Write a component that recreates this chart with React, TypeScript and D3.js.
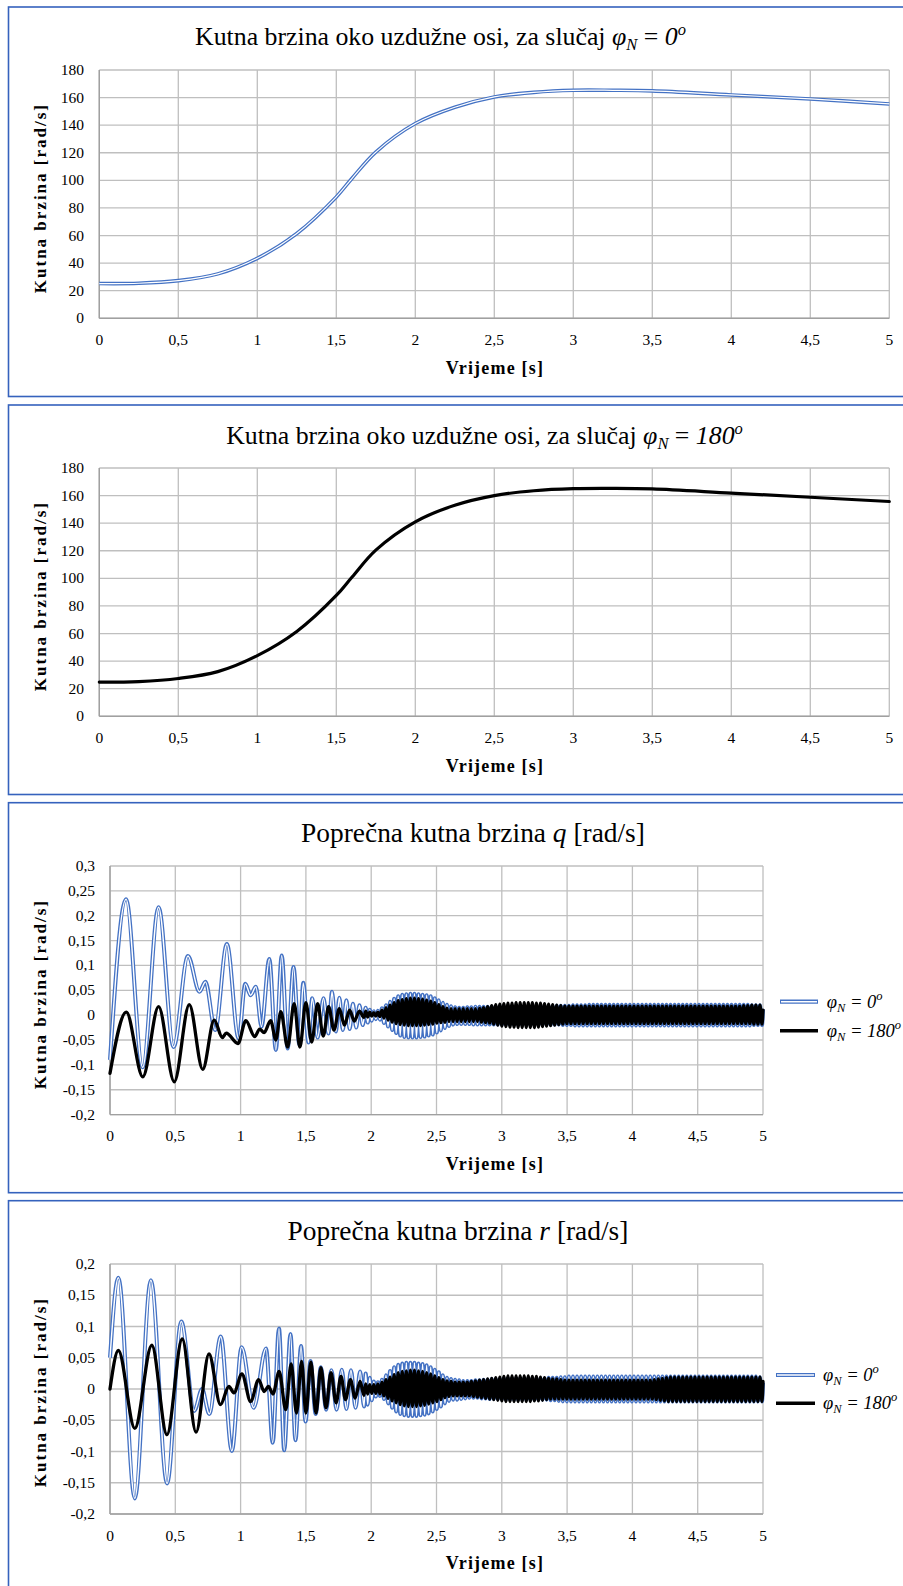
import React from 'react';
import * as d3 from 'd3';

// ---------------- axis ticks ----------------
const timeTicks = [0, 0.5, 1, 1.5, 2, 2.5, 3, 3.5, 4, 4.5, 5];
const timeTickLabels = ['0', '0,5', '1', '1,5', '2', '2,5', '3', '3,5', '4', '4,5', '5'];
const rollTicks = [0, 20, 40, 60, 80, 100, 120, 140, 160, 180];
const rollTickLabels = ['0', '20', '40', '60', '80', '100', '120', '140', '160', '180'];
const qTicks = [0.3, 0.25, 0.2, 0.15, 0.1, 0.05, 0, -0.05, -0.1, -0.15, -0.2];
const qTickLabels = ['0,3', '0,25', '0,2', '0,15', '0,1', '0,05', '0', '-0,05', '-0,1', '-0,15', '-0,2'];
const rTicks = [0.2, 0.15, 0.1, 0.05, 0, -0.05, -0.1, -0.15, -0.2];
const rTickLabels = ['0,2', '0,15', '0,1', '0,05', '0', '-0,05', '-0,1', '-0,15', '-0,2'];

// ---------------- roll rate (panels 1, 2) ----------------
const rollTime = [0, 0.25, 0.5, 0.75, 1, 1.25, 1.5, 1.6, 1.75, 2, 2.25, 2.5, 2.75, 3, 3.25, 3.5, 4, 4.5, 5];
const roll0 = [25.2, 25.4, 27.3, 32.2, 43.5, 61.5, 88, 101.5, 120.5, 141.2, 153, 160.5, 163.8, 165.3, 165.3, 164.9, 161.9, 159, 155.4];
const roll180 = [24.8, 25.2, 27.4, 32.4, 44, 61.5, 87.6, 101, 120.5, 141, 153, 160, 163.5, 165, 165.2, 164.8, 161.8, 158.8, 155.7];

// ---------------- q, slow part (extrema) ----------------
const qBlueSlowT = [0, 0.123, 0.25, 0.372, 0.487, 0.597, 0.685, 0.731, 0.805, 0.895, 0.985, 1.036, 1.077, 1.117, 1.16, 1.22, 1.27, 1.315, 1.36, 1.405, 1.45, 1.48, 1.52, 1.548, 1.59, 1.635, 1.672, 1.7, 1.73, 1.756, 1.783, 1.81, 1.835, 1.86, 1.885, 1.91, 1.935];
const qBlueSlowV = [-0.09, 0.233, -0.105, 0.217, -0.064, 0.119, 0.047, 0.067, -0.03, 0.143, -0.047, 0.063, 0.04, 0.057, -0.023, 0.113, -0.07, 0.12, -0.067, 0.097, -0.06, 0.065, -0.055, 0.034, -0.045, 0.034, -0.037, 0.047, -0.033, 0.035, -0.03, 0.03, -0.028, 0.023, -0.025, 0.02, -0.02];
const qBlackSlowT = [0, 0.125, 0.251, 0.372, 0.492, 0.607, 0.71, 0.798, 0.86, 0.89, 0.98, 1.04, 1.108, 1.146, 1.18, 1.23, 1.27, 1.308, 1.36, 1.41, 1.454, 1.5, 1.544, 1.59, 1.633, 1.674, 1.715, 1.756, 1.795, 1.835, 1.87, 1.91, 1.945];
const qBlackSlowV = [-0.117, 0.006, -0.124, 0.017, -0.134, 0.021, -0.109, -0.01, -0.045, -0.036, -0.057, -0.011, -0.043, -0.028, -0.035, -0.011, -0.05, 0.007, -0.064, 0.023, -0.064, 0.025, -0.054, 0.023, -0.042, 0.017, -0.03, 0.013, -0.02, 0.01, -0.012, 0.008, -0.005];

// ---------------- r, slow part (extrema) ----------------
const rBlueSlowT = [0, 0.064, 0.19, 0.313, 0.437, 0.546, 0.645, 0.705, 0.76, 0.848, 0.933, 1.008, 1.1, 1.195, 1.246, 1.294, 1.334, 1.382, 1.42, 1.463, 1.497, 1.535, 1.575, 1.615, 1.655, 1.695, 1.735, 1.775, 1.81, 1.845, 1.88, 1.915, 1.945];
const rBlueSlowV = [0.05, 0.178, -0.175, 0.174, -0.151, 0.108, -0.035, 0.0, -0.04, 0.084, -0.099, 0.067, -0.03, 0.065, -0.086, 0.097, -0.098, 0.088, -0.082, 0.069, -0.052, 0.045, -0.04, 0.035, -0.033, 0.03, -0.033, 0.031, -0.032, 0.03, -0.03, 0.028, -0.028];
const rBlackSlowT = [0, 0.064, 0.19, 0.32, 0.436, 0.553, 0.659, 0.758, 0.846, 0.91, 0.949, 1.01, 1.077, 1.138, 1.18, 1.213, 1.248, 1.295, 1.346, 1.387, 1.428, 1.467, 1.5, 1.538, 1.577, 1.615, 1.654, 1.692, 1.731, 1.769, 1.803, 1.841, 1.877, 1.915, 1.945];
const rBlackSlowV = [0, 0.0616, -0.063, 0.07, -0.073, 0.08, -0.069, 0.056, -0.025, 0.004, -0.006, 0.024, -0.02, 0.015, -0.004, 0.004, -0.008, 0.028, -0.033, 0.04, -0.0385, 0.044, -0.0385, 0.043, -0.0385, 0.034, -0.03, 0.026, -0.022, 0.02, -0.017, 0.015, -0.0145, 0.012, -0.01];

// ---------------- fast part: peak / trough per cycle (x 0.001 rad/s), 1.95 s .. 5 s ----------------
const FAST_START = 1.95;
const qBlueFastPk = [15, 11, 8, 9, 14, 20, 27, 33, 38, 41, 42, 43, 43, 42, 41, 40, 38, 34, 30, 25, 21, 18, 16, 15, 15, 16, 16, 17, 17, 17, 17, 17, 17, 17, 17, 17, 17, 18, 18, 18, 18, 18, 18, 18, 18, 18, 18, 19, 19, 19, 19, 20, 20, 20, 20, 21, 21, 21, 21, 21, 21, 21, 21, 21, 21, 21, 21, 21, 21, 21, 21, 21, 21, 21, 21, 21, 21, 21, 21, 21, 21, 21, 21, 21, 21, 21, 21, 21, 21, 21, 21, 21, 21, 21, 21, 20, 20, 20];
const qBlueFastTr = [-15, -11, -8, -9, -16, -23, -30, -36, -41, -44, -45, -45, -45, -44, -43, -41, -39, -35, -31, -26, -22, -19, -18, -18, -18, -18, -19, -19, -19, -19, -19, -19, -19, -19, -19, -19, -19, -19, -19, -19, -19, -19, -19, -19, -19, -19, -19, -19, -20, -20, -20, -21, -21, -21, -21, -21, -21, -21, -21, -21, -21, -21, -21, -21, -21, -21, -21, -21, -21, -21, -21, -21, -21, -21, -21, -21, -21, -21, -21, -21, -21, -21, -21, -21, -21, -21, -21, -21, -21, -21, -21, -21, -21, -21, -21, -20, -20, -20];
const qBlackFastPk = [8, 6, 5, 6, 10, 15, 20, 25, 29, 31, 33, 34, 34, 33, 32, 30, 28, 25, 21, 17, 14, 13, 13, 13, 13, 13, 13, 13, 14, 15, 17, 19, 21, 22, 23, 24, 24, 25, 25, 25, 25, 25, 24, 24, 23, 22, 21, 20, 19, 18, 18, 18, 18, 18, 18, 18, 18, 18, 18, 18, 18, 18, 18, 18, 18, 18, 18, 18, 18, 18, 18, 18, 18, 18, 18, 18, 18, 18, 18, 18, 18, 18, 18, 18, 18, 18, 18, 18, 18, 18, 18, 18, 18, 19, 19, 20, 20, 20];
const qBlackFastTr = [-4, -2, -2, -3, -6, -10, -14, -17, -19, -20, -21, -21, -21, -21, -20, -19, -18, -16, -15, -14, -13, -13, -13, -13, -13, -13, -13, -13, -14, -15, -16, -18, -20, -22, -23, -24, -24, -25, -25, -25, -25, -25, -24, -23, -22, -21, -20, -19, -18, -17, -17, -17, -17, -17, -17, -17, -17, -17, -17, -17, -17, -17, -17, -17, -17, -17, -17, -17, -17, -17, -17, -17, -17, -17, -17, -17, -17, -17, -17, -17, -17, -17, -17, -17, -17, -17, -17, -17, -17, -17, -17, -17, -17, -17, -17, -18, -18, -18];
const rBlueFastPk = [25, 18, 12, 11, 15, 22, 29, 35, 39, 41, 42, 42, 42, 41, 40, 38, 35, 31, 27, 22, 18, 16, 15, 14, 13, 13, 13, 14, 14, 15, 15, 16, 16, 16, 17, 17, 17, 17, 17, 17, 17, 17, 17, 17, 17, 18, 18, 18, 19, 19, 20, 20, 20, 20, 20, 20, 20, 20, 20, 20, 20, 20, 20, 20, 20, 20, 20, 20, 20, 20, 20, 20, 20, 20, 20, 20, 20, 20, 20, 20, 20, 20, 20, 20, 20, 20, 20, 20, 20, 20, 20, 20, 20, 20, 20, 20, 20, 19];
const rBlueFastTr = [-25, -18, -12, -11, -16, -23, -30, -36, -40, -42, -43, -43, -43, -42, -41, -39, -36, -32, -28, -23, -19, -17, -17, -16, -15, -14, -14, -14, -15, -15, -16, -16, -16, -16, -17, -17, -17, -17, -17, -17, -17, -17, -17, -17, -17, -18, -18, -19, -20, -20, -20, -20, -20, -20, -20, -20, -20, -20, -20, -20, -20, -20, -20, -20, -20, -20, -20, -20, -20, -20, -20, -20, -20, -20, -20, -20, -20, -20, -20, -20, -20, -20, -20, -20, -20, -20, -20, -20, -20, -20, -20, -20, -20, -20, -20, -20, -20, -20];
const rBlackFastPk = [8, 7, 7, 8, 11, 15, 19, 23, 26, 28, 29, 30, 30, 29, 28, 26, 24, 21, 18, 15, 13, 12, 11, 11, 11, 11, 12, 13, 14, 15, 16, 17, 18, 19, 20, 21, 21, 21, 21, 21, 21, 20, 20, 19, 18, 17, 16, 16, 15, 14, 14, 14, 14, 14, 14, 14, 14, 14, 14, 14, 14, 14, 14, 14, 14, 14, 14, 14, 14, 14, 14, 15, 16, 17, 18, 19, 19, 19, 19, 19, 19, 19, 19, 19, 19, 19, 19, 19, 19, 19, 19, 19, 19, 19, 19, 19, 19, 19];
const rBlackFastTr = [-8, -7, -7, -8, -11, -15, -19, -22, -25, -27, -28, -28, -28, -27, -26, -24, -22, -20, -17, -14, -12, -11, -11, -11, -11, -11, -12, -13, -14, -15, -16, -17, -18, -19, -20, -20, -20, -20, -20, -20, -20, -19, -19, -18, -17, -16, -16, -16, -16, -16, -16, -16, -16, -16, -16, -16, -16, -16, -16, -16, -16, -16, -16, -16, -16, -16, -16, -16, -16, -16, -16, -17, -18, -19, -20, -20, -20, -20, -20, -20, -20, -20, -20, -20, -20, -20, -20, -20, -20, -20, -20, -20, -20, -20, -20, -20, -20, -20];
const qBlueEnd = 0.012;
const qBlackEnd = 0.01;
const rBlueEnd = 0.01;
const rBlackEnd = 0.012;

// ---------------- styling ----------------
const FONT = '"Liberation Serif", "Times New Roman", Times, serif';
const BLUE = '#4472C4';
const FRAME = '#3562BD';
const GRID = '#bfbfbf';
const AXIS = '#a0a0a0';

type Pt = [number, number];

function buildSeries(slowT: number[], slowV: number[], pk: number[], tr: number[], endV: number): Pt[] {
  const pts: Pt[] = slowT.map((t, i) => [t, slowV[i]] as Pt);
  const n = pk.length;
  const period = (5 - FAST_START) / n;
  for (let i = 0; i < n; i++) {
    pts.push([FAST_START + (i + 0.25) * period, pk[i] / 1000]);
    pts.push([FAST_START + (i + 0.75) * period, tr[i] / 1000]);
  }
  pts.push([5, endV]);
  return pts;
}

const qBlue = buildSeries(qBlueSlowT, qBlueSlowV, qBlueFastPk, qBlueFastTr, qBlueEnd);
const qBlack = buildSeries(qBlackSlowT, qBlackSlowV, qBlackFastPk, qBlackFastTr, qBlackEnd);
const rBlue = buildSeries(rBlueSlowT, rBlueSlowV, rBlueFastPk, rBlueFastTr, rBlueEnd);
const rBlack = buildSeries(rBlackSlowT, rBlackSlowV, rBlackFastPk, rBlackFastTr, rBlackEnd);
const roll0Pts: Pt[] = rollTime.map((t, i) => [t, roll0[i]] as Pt);
const roll180Pts: Pt[] = rollTime.map((t, i) => [t, roll180[i]] as Pt);

type Series = { pts: Pt[]; kind: 'blue' | 'black'; curve: d3.CurveFactory; bw: number; ww: number; kw: number };

type Cfg = {
  frameTop: number;
  frameBottom: number;
  x0: number;
  x1: number;
  yTop: number;
  yBot: number;
  yDomain: [number, number];
  yTicks: number[];
  yLabels: string[];
  yLabelX: number;
  title: React.ReactNode;
  series: Series[];
  legend?: { lx0: number; lx1: number; tx: number; y1: number; y2: number };
};

function Legend({ lg }: { lg: NonNullable<Cfg['legend']> }) {
  return (
    <g fontFamily={FONT} fontSize={18.5} fontStyle="italic">
      <line x1={lg.lx0} x2={lg.lx1} y1={lg.y1} y2={lg.y1} stroke={BLUE} strokeWidth={4.2} />
      <line x1={lg.lx0 + 1} x2={lg.lx1 - 1} y1={lg.y1} y2={lg.y1} stroke="#fff" strokeWidth={1.5} />
      <text x={lg.tx} y={lg.y1 + 6}>
        φ<tspan fontSize={12.5} dy={4}>N</tspan>
        <tspan dy={-4}> = 0</tspan>
        <tspan fontSize={12.5} dy={-8}>o</tspan>
      </text>
      <line x1={lg.lx0} x2={lg.lx1} y1={lg.y2} y2={lg.y2} stroke="#000" strokeWidth={3.6} />
      <text x={lg.tx} y={lg.y2 + 6}>
        φ<tspan fontSize={12.5} dy={4}>N</tspan>
        <tspan dy={-4}> = 180</tspan>
        <tspan fontSize={12.5} dy={-8}>o</tspan>
      </text>
    </g>
  );
}

function Panel({ cfg }: { cfg: Cfg }) {
  const x = d3.scaleLinear().domain([0, 5]).range([cfg.x0, cfg.x1]);
  const y = d3.scaleLinear().domain(cfg.yDomain).range([cfg.yBot, cfg.yTop]);
  const mk = (s: Series) =>
    d3
      .line<Pt>()
      .x((d) => x(d[0]))
      .y((d) => y(d[1]))
      .curve(s.curve)(s.pts) || '';
  const midX = 495;
  return (
    <g>
      <rect x={8.5} y={cfg.frameTop} width={1000} height={cfg.frameBottom - cfg.frameTop} fill="none" stroke={FRAME} strokeWidth={1.6} />
      {/* grid */}
      {cfg.yTicks.map((t) => (
        <line key={'h' + t} x1={cfg.x0} x2={cfg.x1} y1={y(t)} y2={y(t)} stroke={GRID} strokeWidth={1.3} />
      ))}
      {timeTicks.map((t) => (
        <line key={'v' + t} x1={x(t)} x2={x(t)} y1={cfg.yTop} y2={cfg.yBot} stroke={GRID} strokeWidth={1.3} />
      ))}
      <line x1={cfg.x0} x2={cfg.x0} y1={cfg.yTop} y2={cfg.yBot} stroke={AXIS} strokeWidth={1.4} />
      <line x1={cfg.x0} x2={cfg.x1} y1={cfg.yBot} y2={cfg.yBot} stroke={AXIS} strokeWidth={1.4} />
      {/* tick labels */}
      <g fontFamily={FONT} fontSize={15.5} fill="#000">
        {cfg.yTicks.map((t, i) => (
          <text key={'yl' + t} x={cfg.yLabelX} y={y(t) + 5} textAnchor="end">
            {cfg.yLabels[i]}
          </text>
        ))}
        {timeTicks.map((t, i) => (
          <text key={'xl' + t} x={x(t)} y={cfg.yBot + 26.5} textAnchor="middle">
            {timeTickLabels[i]}
          </text>
        ))}
      </g>
      {/* axis titles */}
      <text x={midX} y={cfg.yBot + 55.4} textAnchor="middle" fontFamily={FONT} fontWeight="bold" fontSize={18} letterSpacing={1.2}>
        Vrijeme [s]
      </text>
      <text
        transform={`translate(46, ${cfg.yTop + 33}) rotate(-90)`}
        textAnchor="end"
        fontFamily={FONT}
        fontWeight="bold"
        fontSize={17}
        letterSpacing={2}
      >
        Kutna brzina [rad/s]
      </text>
      {cfg.title}
      {/* series */}
      {cfg.series.map((s, i) =>
        s.kind === 'blue' ? (
          <g key={i}>
            <path d={mk(s)} fill="none" stroke={BLUE} strokeWidth={s.bw} strokeLinejoin="round" />
            <path d={mk(s)} fill="none" stroke="#fff" strokeWidth={s.ww} strokeLinejoin="round" />
          </g>
        ) : (
          <path key={i} d={mk(s)} fill="none" stroke="#000" strokeWidth={s.kw} strokeLinejoin="round" strokeLinecap="round" />
        )
      )}
      {cfg.legend && <Legend lg={cfg.legend} />}
    </g>
  );
}

const smooth = d3.curveCatmullRom.alpha(0.5);
const osc = d3.curveMonotoneX;

const panels: Cfg[] = [
  {
    frameTop: 7,
    frameBottom: 396.5,
    x0: 99.3,
    x1: 889.3,
    yTop: 70,
    yBot: 318.3,
    yDomain: [0, 180],
    yTicks: rollTicks,
    yLabels: rollTickLabels,
    yLabelX: 84,
    title: (
      <text x={440.5} y={45} textAnchor="middle" fontFamily={FONT} fontSize={25.8}>
        Kutna brzina oko uzdužne osi, za slučaj <tspan fontStyle="italic">φ</tspan>
        <tspan fontStyle="italic" fontSize={16.5} dy={5}>N</tspan>
        <tspan dy={-5}> = </tspan>
        <tspan fontStyle="italic">0</tspan>
        <tspan fontStyle="italic" fontSize={16.5} dy={-10}>o</tspan>
      </text>
    ),
    series: [{ pts: roll0Pts, kind: 'blue', curve: smooth, bw: 3.6, ww: 1.2, kw: 3 }],
  },
  {
    frameTop: 405,
    frameBottom: 794.5,
    x0: 99.3,
    x1: 889.3,
    yTop: 468,
    yBot: 716.3,
    yDomain: [0, 180],
    yTicks: rollTicks,
    yLabels: rollTickLabels,
    yLabelX: 84,
    title: (
      <text x={484.5} y={443.5} textAnchor="middle" fontFamily={FONT} fontSize={25.8}>
        Kutna brzina oko uzdužne osi, za slučaj <tspan fontStyle="italic">φ</tspan>
        <tspan fontStyle="italic" fontSize={16.5} dy={5}>N</tspan>
        <tspan dy={-5}> = </tspan>
        <tspan fontStyle="italic">180</tspan>
        <tspan fontStyle="italic" fontSize={16.5} dy={-10}>o</tspan>
      </text>
    ),
    series: [{ pts: roll180Pts, kind: 'black', curve: smooth, bw: 3.6, ww: 1.2, kw: 3.2 }],
  },
  {
    frameTop: 802.7,
    frameBottom: 1192.7,
    x0: 110,
    x1: 763,
    yTop: 866,
    yBot: 1114.6,
    yDomain: [-0.2, 0.3],
    yTicks: qTicks,
    yLabels: qTickLabels,
    yLabelX: 95,
    title: (
      <text x={473} y={842} textAnchor="middle" fontFamily={FONT} fontSize={27.4}>
        Poprečna kutna brzina <tspan fontStyle="italic">q</tspan> [rad/s]
      </text>
    ),
    series: [
      { pts: qBlue, kind: 'blue', curve: osc, bw: 4, ww: 1.4, kw: 3 },
      { pts: qBlack, kind: 'black', curve: osc, bw: 4, ww: 1.4, kw: 3.3 },
    ],
    legend: { lx0: 780, lx1: 818, tx: 826.7, y1: 1001.7, y2: 1030.7 },
  },
  {
    frameTop: 1200.7,
    frameBottom: 1620,
    x0: 110,
    x1: 763,
    yTop: 1264,
    yBot: 1514,
    yDomain: [-0.2, 0.2],
    yTicks: rTicks,
    yLabels: rTickLabels,
    yLabelX: 95,
    title: (
      <text x={458} y={1239.5} textAnchor="middle" fontFamily={FONT} fontSize={27.4}>
        Poprečna kutna brzina <tspan fontStyle="italic">r</tspan> [rad/s]
      </text>
    ),
    series: [
      { pts: rBlue, kind: 'blue', curve: osc, bw: 4, ww: 1.4, kw: 3 },
      { pts: rBlack, kind: 'black', curve: osc, bw: 4, ww: 1.4, kw: 3.3 },
    ],
    legend: { lx0: 776, lx1: 815, tx: 823, y1: 1375, y2: 1403.3 },
  },
];

export default function App() {
  return (
    <div style={{ position: 'absolute', left: 0, top: 0 }}>
      <svg width={903} height={1586} viewBox="0 0 903 1586" style={{ display: 'block', background: '#fff' }}>
        <rect x={0} y={0} width={903} height={1586} fill="#fff" />
        {panels.map((p, i) => (
          <Panel key={i} cfg={p} />
        ))}
      </svg>
    </div>
  );
}
